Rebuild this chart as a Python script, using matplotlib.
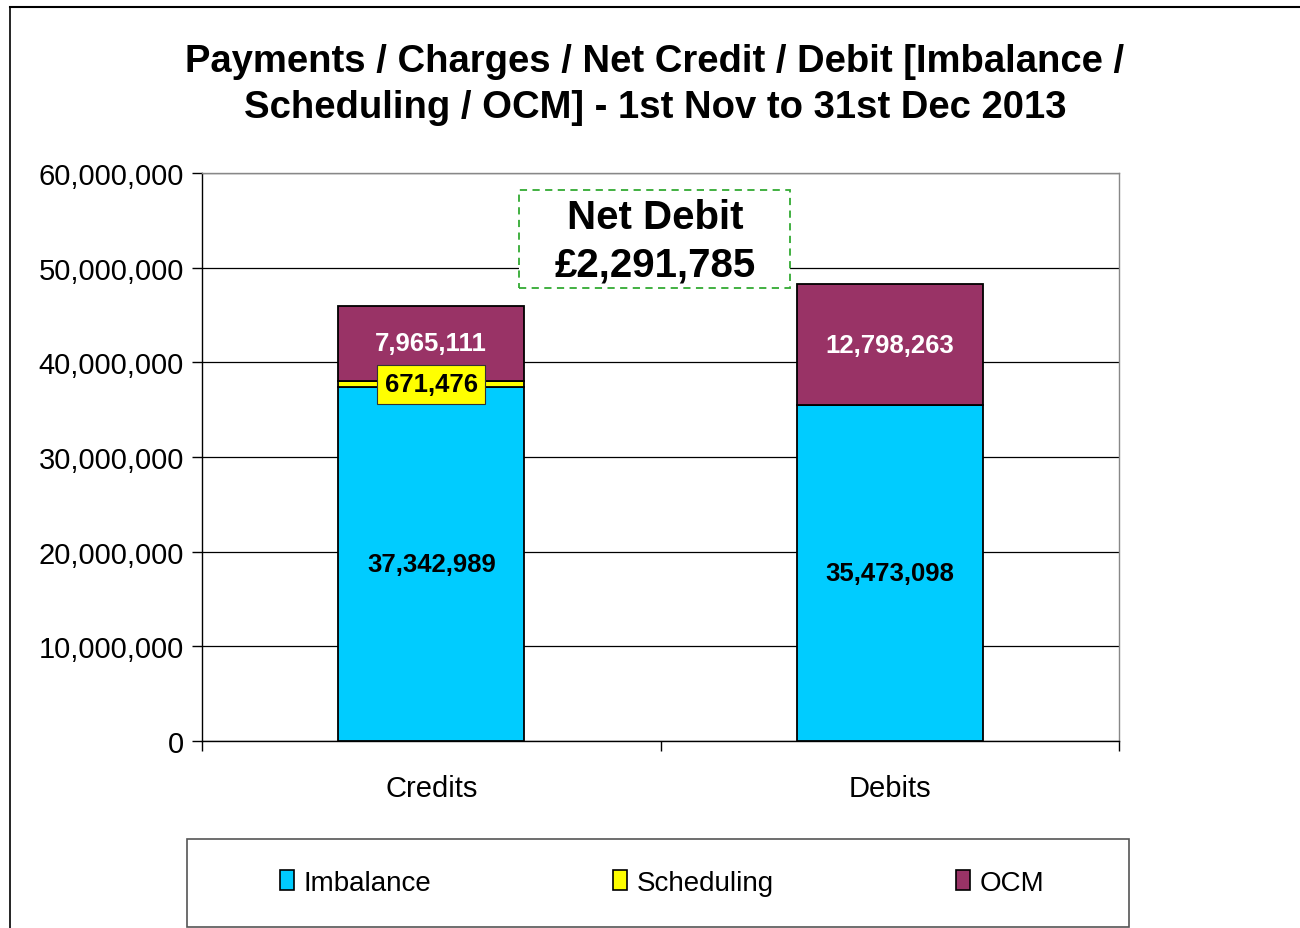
import matplotlib
matplotlib.use("Agg")
import matplotlib.pyplot as plt
from matplotlib.patches import Rectangle, Patch
from matplotlib.lines import Line2D
from matplotlib.ticker import FuncFormatter, MultipleLocator
import numpy as np

plt.rcParams['font.family'] = ['Liberation Sans', 'DejaVu Sans']

categories = ["Credits", "Debits"]
series_names = ["Imbalance", "Scheduling", "OCM"]
imbalance = [37342989, 35473098]
scheduling = [671476, 0]
ocm = [7965111, 12798263]
colors = ["#00CCFF", "#FFFF00", "#993366"]
net_label = "Net Debit\n£2,291,785"
title = "Payments / Charges / Net Credit / Debit [Imbalance /\nScheduling / OCM] - 1st Nov to 31st Dec 2013"

W, H = 1300, 929
fig = plt.figure(figsize=(W / 100, H / 100), dpi=100)
ax = fig.add_axes([202 / W, 1 - 742 / H, (1119 - 202) / W, (742 - 174) / H])

x = np.arange(len(categories))
width = 0.406
series = [imbalance, scheduling, ocm]
bottom = np.zeros(len(categories))
for vals, col, name in zip(series, colors, series_names):
    v = np.array(vals, dtype=float)
    ax.bar(x, v, width, bottom=bottom, color=col, edgecolor="black",
           linewidth=1.3, label=name, zorder=3)
    bottom += v

for i in range(len(categories)):
    ax.text(x[i], imbalance[i] / 2, f"{imbalance[i]:,}", ha="center", va="center",
            fontsize=18.5, fontweight="bold", color="black", zorder=5)
    if scheduling[i] > 0:
        ax.text(x[i], imbalance[i] + scheduling[i] / 2, f"{scheduling[i]:,}",
                ha="center", va="center", fontsize=18.5, fontweight="bold", color="black",
                zorder=6,
                bbox=dict(boxstyle="square,pad=0.3", facecolor="#FFFF00",
                          edgecolor="#333333", linewidth=0.8))
    base = imbalance[i] + scheduling[i]
    ax.text(x[i], base + ocm[i] / 2, f"{ocm[i]:,}", ha="center", va="center",
            fontsize=18.5, fontweight="bold", color="white", zorder=5)

ax.set_xlim(-0.5, 1.5)
ax.set_ylim(0, 60000000)
ax.yaxis.set_major_locator(MultipleLocator(10000000))
ax.yaxis.set_major_formatter(FuncFormatter(lambda v, p: f"{int(v):,}"))
ax.grid(axis="y", color="black", linewidth=0.9, zorder=0)
ax.set_axisbelow(True)
ax.set_xticks(x)
ax.set_xticklabels(categories, fontsize=21)
ax.tick_params(axis="x", length=0, pad=23.5)
ax.set_xticks([-0.5, 0.5, 1.5], minor=True)
ax.tick_params(axis="x", which="minor", length=7, width=1, direction="out")
ax.tick_params(axis="y", labelsize=21, length=7, width=1, direction="out", pad=6)
for s in ["top", "right"]:
    ax.spines[s].set_color("#888888")
    ax.spines[s].set_linewidth(1)
for s in ["left", "bottom"]:
    ax.spines[s].set_color("black")
    ax.spines[s].set_linewidth(1)

# Net debit box
fig.patches.append(Rectangle((519 / W, 1 - 289 / H), (790 - 519) / W, (289 - 191) / H,
                             transform=fig.transFigure, facecolor="white",
                             edgecolor="#33AA33", linestyle=(0, (4, 3)), linewidth=1.3,
                             zorder=10))
fig.text(655 / W, 1 - 242 / H, net_label, ha="center", va="center", fontsize=29,
         fontweight="bold", linespacing=1.32, zorder=11)

# title
fig.text(655 / W, 1 - 85 / H, title, ha="center", va="center", fontsize=27.5,
         fontweight="bold", linespacing=1.36)

# legend frame
fig.patches.append(Rectangle((187 / W, 1 - 928 / H), (1129 - 187) / W, (928 - 840) / H,
                             transform=fig.transFigure, facecolor="white",
                             edgecolor="#555555", linewidth=1.2))
handles = [Patch(facecolor=c, edgecolor="black", linewidth=1.2) for c in colors]
leg = fig.legend(handles, series_names, loc="center", bbox_to_anchor=(662 / W, 1 - 884 / H),
                 ncol=3, frameon=False, fontsize=20, handlelength=0.5, handleheight=0.75,
                 handletextpad=0.35, columnspacing=6.55)

# outer frame
fig.add_artist(Line2D([10 / W, 1.0], [1 - 8 / H, 1 - 8 / H], transform=fig.transFigure,
                      color="black", linewidth=1.5))
fig.add_artist(Line2D([10 / W, 10 / W], [1 - 8 / H, 0], transform=fig.transFigure,
                      color="black", linewidth=1.2))

fig.savefig("out.png", dpi=100)
